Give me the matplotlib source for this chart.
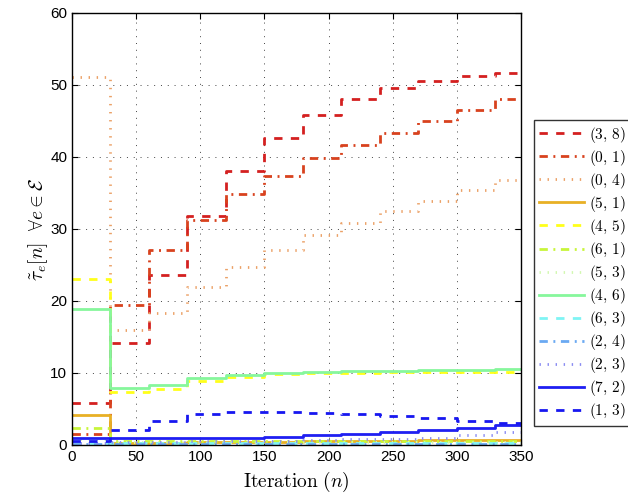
import matplotlib
matplotlib.use("Agg")
import matplotlib.pyplot as plt
import numpy as np

plt.rcParams["mathtext.fontset"] = "cm"
plt.rcParams["font.family"] = ["Liberation Sans", "DejaVu Sans"]

# step boundaries (iterations) and per-step values for every edge
breaks = [0, 30, 60, 90, 120, 150, 180, 210, 240, 270, 300, 330, 350]

edges = ["(3,8)", "(0,1)", "(0,4)", "(5,1)", "(4,5)", "(6,1)", "(5,3)",
         "(4,6)", "(6,3)", "(2,4)", "(2,3)", "(7,2)", "(1,3)"]

tau_38 = [5.9, 14.2, 23.6, 31.8, 38.1, 42.7, 45.9, 48.1, 49.6, 50.6, 51.3, 51.7]
tau_01 = [1.5, 19.4, 27.1, 31.2, 34.8, 37.4, 39.8, 41.6, 43.4, 45.0, 46.5, 48.0]
tau_04 = [51.1, 16.0, 18.3, 21.9, 24.7, 27.1, 29.1, 30.9, 32.5, 33.9, 35.4, 36.8]
tau_51 = [4.2, 0.3, 0.3, 0.35, 0.4, 0.45, 0.5, 0.55, 0.6, 0.65, 0.7, 0.75]
tau_45 = [23.1, 7.3, 7.8, 8.9, 9.5, 9.85, 10.0, 10.05, 10.1, 10.1, 10.1, 10.1]
tau_61 = [2.3, 0.6, 0.6, 0.6, 0.6, 0.6, 0.6, 0.6, 0.6, 0.6, 0.6, 0.6]
tau_53 = [0.8, 0.4, 0.4, 0.4, 0.4, 0.4, 0.4, 0.4, 0.4, 0.4, 0.4, 0.4]
tau_46 = [18.9, 7.95, 8.3, 9.25, 9.7, 10.05, 10.15, 10.25, 10.3, 10.35, 10.4, 10.5]
tau_63 = [0.25, 0.25, 0.25, 0.25, 0.25, 0.25, 0.25, 0.25, 0.25, 0.25, 0.25, 0.25]
tau_24 = [0.15, 0.15, 0.15, 0.15, 0.15, 0.15, 0.15, 0.15, 0.15, 0.15, 0.15, 0.15]
tau_23 = [0.3, 0.4, 0.4, 0.5, 0.5, 0.6, 0.7, 0.8, 0.9, 1.0, 1.4, 1.85]
tau_72 = [1.0, 1.0, 1.0, 1.0, 1.0, 1.15, 1.34, 1.53, 1.8, 2.08, 2.4, 2.8]
tau_13 = [0.6, 2.1, 3.4, 4.3, 4.6, 4.65, 4.5, 4.3, 4.0, 3.7, 3.4, 3.0]

series = [tau_38, tau_01, tau_04, tau_51, tau_45, tau_61, tau_53,
          tau_46, tau_63, tau_24, tau_23, tau_72, tau_13]

colors = ["#d42020", "#d8421e", "#eba167", "#e8b025", "#ffff1a", "#c8f53a",
          "#d2f8b0", "#86f79c", "#7ff4f4", "#6aa9f2", "#8a8cf2", "#1f1ff2", "#1717f0"]
dash_dash = (0, (3, 3))
dash_dot = (0, (3, 2, 0.7, 2))
dots = (0, (0.5, 2.4))
styles = [dash_dash, dash_dot, dots, "-"] * 3 + [dash_dash]

fig = plt.figure(figsize=(6.28, 5.03), dpi=100)
ax = fig.add_axes([72 / 628, 1 - 445 / 503, 449 / 628, 432 / 503])

for name, vals, c, ls in zip(edges, series, colors, styles):
    y = vals + [vals[-1]]
    ax.plot(breaks, y, drawstyle="steps-post", color=c, ls=ls, lw=2.0,
            label="$" + name.replace(",", ",\\,") + "$")

ax.set_xlim(0, 350)
ax.set_ylim(0, 60)
ax.set_xticks(np.arange(0, 351, 50))
ax.set_yticks(np.arange(0, 61, 10))
ax.tick_params(direction="in", top=True, right=True, labelsize=11, length=4)
ax.grid(True, color="#444444", ls=(0, (1, 6)), lw=0.7)
for s in ax.spines.values():
    s.set_linewidth(1.0)

ax.set_xlabel(r"$\mathrm{Iteration}\ (n)$", fontsize=14, labelpad=4)
ax.set_ylabel(r"$\tilde{\tau}_e[n]\ \ \forall e \in \mathcal{E}$", fontsize=14, labelpad=0)

leg = ax.legend(loc="upper left", bbox_to_anchor=(534 / 628, 1 - 120 / 503),
                bbox_transform=fig.transFigure, fontsize=11, frameon=True,
                fancybox=False, edgecolor="black", handlelength=3.0,
                labelspacing=0.2, borderpad=0.3, handletextpad=0.3,
                borderaxespad=0)
leg.get_frame().set_linewidth(1.0)

fig.savefig("out.png", dpi=100)
